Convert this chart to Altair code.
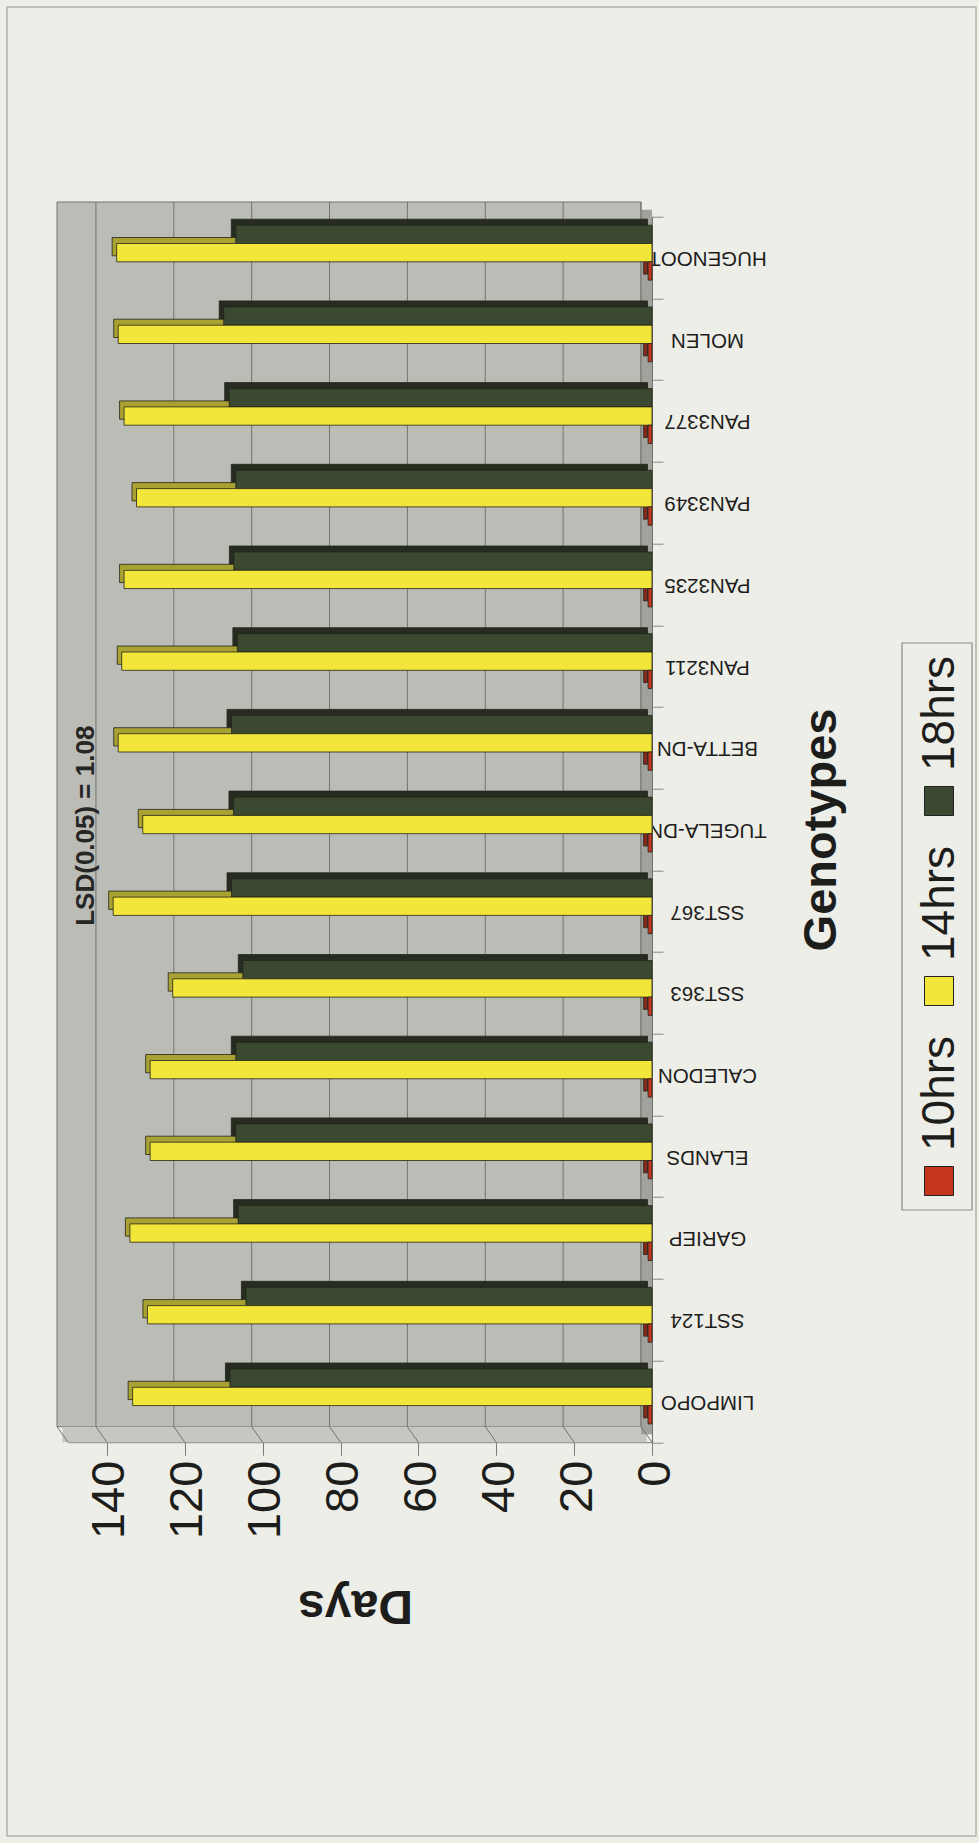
import altair as alt
import pandas as pd

# ---------------- data ----------------
genotypes = ["LIMPOPO", "SST124", "GARIEP", "ELANDS", "CALEDON", "SST363", "SST367",
             "TUGELA-DN", "BETTA-DN", "PAN3211", "PAN3235", "PAN3349", "PAN3377",
             "MOLEN", "HUGENOOT"]
series = ["10hrs", "14hrs", "18hrs"]
days_10hrs = [1.0, 1.0, 1.0, 1.0, 1.0, 1.0, 1.0, 1.0, 1.0, 1.0, 1.0, 1.0, 1.0, 1.0, 1.0]
days_14hrs = [133.4, 129.6, 134.1, 128.9, 128.9, 123.1, 138.4, 130.8, 137.1, 136.2,
              135.6, 132.4, 135.6, 137.1, 137.5]
days_18hrs = [108.4, 104.3, 106.3, 106.9, 106.9, 105.1, 108.0, 107.5, 108.0, 106.5,
              107.4, 106.9, 108.6, 110.0, 106.9]
tick_values = [0, 20, 40, 60, 80, 100, 120, 140]
lsd_label = ["LSD(0.05) = 1.08"]

rows = []
for s, vals in zip(series, [days_10hrs, days_14hrs, days_18hrs]):
    for g, v in zip(genotypes, vals):
        rows.append({"genotype": g, "series": s, "days": v})
df = pd.DataFrame(rows)
ticks_df = pd.DataFrame({"v": tick_values})
diag_df = pd.DataFrame({"v": tick_values + [150]})
one = pd.DataFrame({"k": [0]})
legend_df = pd.DataFrame({"series": series})

# ---------------- styling ----------------
FONT = "Liberation Sans"
INK = "#1d1d1b"
W, H = 584, 1225.5
front_colors = ["#c4361f", "#f3e63a", "#3a4930"]
top_colors = ["#86281a", "#a9a232", "#262d20"]
series_order_top_down = ["18hrs", "14hrs", "10hrs"]
bar_dy = {"18hrs": -23.2, "14hrs": -4.9, "10hrs": 13.4}
BAR_H = 18.3

x_scale = alt.Scale(domain=[0, 150], reverse=True, nice=False, zero=True)
x_axis = alt.Axis(values=tick_values, grid=False, orient="bottom",
                  labelAngle=270, labelAlign="right", labelBaseline="middle",
                  labelFontSize=47, labelFont=FONT, labelColor=INK, labelPadding=5,
                  labelOffset=3, labelFlush=False, labelOverlap=False,
                  tickSize=13, tickColor="#7c7c78", domainColor="#7c7c78",
                  title="Days", titleFont=FONT, titleFontSize=48, titleFontWeight="bold",
                  titleColor=INK, titleAngle=180, titleAlign="center",
                  titleBaseline="alphabetic", titleX=287, titleY=148)
y_scale = alt.Scale(domain=genotypes[::-1], paddingInner=0, paddingOuter=0)
y_axis = alt.Axis(orient="right", labelAngle=180, labelAlign="center",
                  labelBaseline="middle", labelFontSize=20.5, labelFont=FONT,
                  labelColor=INK, labelPadding=44, labelLimit=0, labelOverlap=False,
                  tickSize=11, tickBand="extent", tickColor="#8a8a86",
                  domainColor="#6f6f6b",
                  title="Genotypes", titleFont=FONT, titleFontSize=47,
                  titleFontWeight="bold", titleColor=INK, titleAngle=270,
                  titleAlign="center", titleBaseline="alphabetic",
                  titleX=183, titleY=H / 2)

front_scale = alt.Scale(domain=series, range=front_colors)
top_scale = alt.Scale(domain=series, range=top_colors)

# ---------------- 3D box decoration ----------------
wall = alt.Chart(one).mark_rect(fill="#bcbcb7", stroke="#74746f", strokeWidth=1,
                                xOffset=-11, x2Offset=-11).encode(
    x=alt.XDatum(150, scale=x_scale, axis=x_axis), x2=alt.X2Datum(0),
    y=alt.value(-14.7), y2=alt.value(H - 15.5))

bottom_strip = alt.Chart(one).mark_rect(fill="#c7c7c2", xOffset=-5.5, x2Offset=-5.5).encode(
    x=alt.XDatum(150, scale=x_scale, axis=x_axis), x2=alt.X2Datum(0),
    y=alt.value(H - 15.5), y2=alt.value(H))

right_strip = alt.Chart(one).mark_rect(fill="#a2a29d", xOffset=-11, x2Offset=0).encode(
    x=alt.XDatum(0, scale=x_scale, axis=x_axis), x2=alt.X2Datum(0),
    y=alt.value(-7), y2=alt.value(H - 8))

grid = alt.Chart(ticks_df).mark_rule(color="#74746f", strokeWidth=1, xOffset=-11).encode(
    x=alt.X("v:Q", scale=x_scale, axis=x_axis),
    y=alt.value(-14.7), y2=alt.value(H - 15.5))

diag = alt.Chart(diag_df).mark_rule(color="#74746f", strokeWidth=1,
                                    xOffset=-11, x2Offset=0).encode(
    x=alt.X("v:Q", scale=x_scale, axis=x_axis), x2="v:Q",
    y=alt.value(H - 15.5), y2=alt.value(H))

# ---------------- bars (front face + shaded top/end face) ----------------
top_layers = []
front_layers = []
for s in series_order_top_down:
    dy = bar_dy[s]
    top_layers.append(
        alt.Chart(df).transform_filter(alt.datum.series == s).mark_bar(
            height=BAR_H, yOffset=dy - 6, xOffset=-4.5, x2Offset=-4.5,
            stroke="#23231a", strokeWidth=0.8).encode(
            x=alt.X("days:Q", scale=x_scale, axis=x_axis),
            y=alt.Y("genotype:N", scale=y_scale, axis=y_axis),
            fill=alt.Fill("series:N", scale=top_scale, legend=None)))
    front_layers.append(
        alt.Chart(df).transform_filter(alt.datum.series == s).mark_bar(
            height=BAR_H, yOffset=dy, stroke="#23231a", strokeWidth=0.8).encode(
            x=alt.X("days:Q", scale=x_scale, axis=x_axis),
            y=alt.Y("genotype:N", scale=y_scale, axis=y_axis),
            color=alt.Color("series:N", scale=front_scale, legend=None)))

lsd = alt.Chart(pd.DataFrame({"label": lsd_label})).mark_text(
    angle=270, align="center", baseline="alphabetic", font=FONT, fontSize=26,
    fontWeight="bold", color="#262624", xOffset=-13).encode(
    x=alt.XDatum(140, scale=x_scale, axis=x_axis),
    y=alt.value(609), text="label:N")

main = alt.layer(wall, bottom_strip, right_strip, grid, diag,
                 *top_layers, *front_layers, lsd)

# ---------------- legend (rotated, built from the series list) ----------------
legend_box = alt.Chart(one).mark_rect(fillOpacity=0, stroke="#8c8c88", strokeWidth=1.2).encode(
    x=alt.value(834), x2=alt.value(904), y=alt.value(426.3), y2=alt.value(993.3))

legend_sq = alt.Chart(legend_df).mark_square(size=841, stroke="#222", strokeWidth=1,
                                              opacity=1).encode(
    x=alt.value(871),
    y=alt.Y("series:N", scale=alt.Scale(type="point", domain=series_order_top_down,
                                        range=[584.3, 964.3], padding=0), axis=None),
    color=alt.Color("series:N", scale=front_scale, legend=None))

legend_txt = alt.Chart(legend_df).mark_text(angle=270, align="left", baseline="middle",
                                            font=FONT, fontSize=46, color=INK).encode(
    x=alt.value(872),
    y=alt.Y("series:N", scale=alt.Scale(type="point", domain=series_order_top_down,
                                        range=[554.3, 934.3], padding=0), axis=None),
    text="series:N")

border = alt.Chart(one).mark_rect(fillOpacity=0, stroke="#b2b2aa", strokeWidth=1.5).encode(
    x=alt.value(-61), x2=alt.value(908), y=alt.value(-209.7), y2=alt.value(1619.3))

chart = alt.layer(main, legend_box, legend_sq, legend_txt, border).resolve_scale(
    y="independent"
).properties(
    width=W, height=H,
    padding={"left": 68, "top": 216.7, "right": 327, "bottom": 400.8},
    autosize=alt.AutoSizeParams(type="none"),
    background="#eeeee9",
).configure(font=FONT).configure_view(stroke="transparent")

chart.save("out.html", embed_options={"renderer": "svg", "actions": False})
